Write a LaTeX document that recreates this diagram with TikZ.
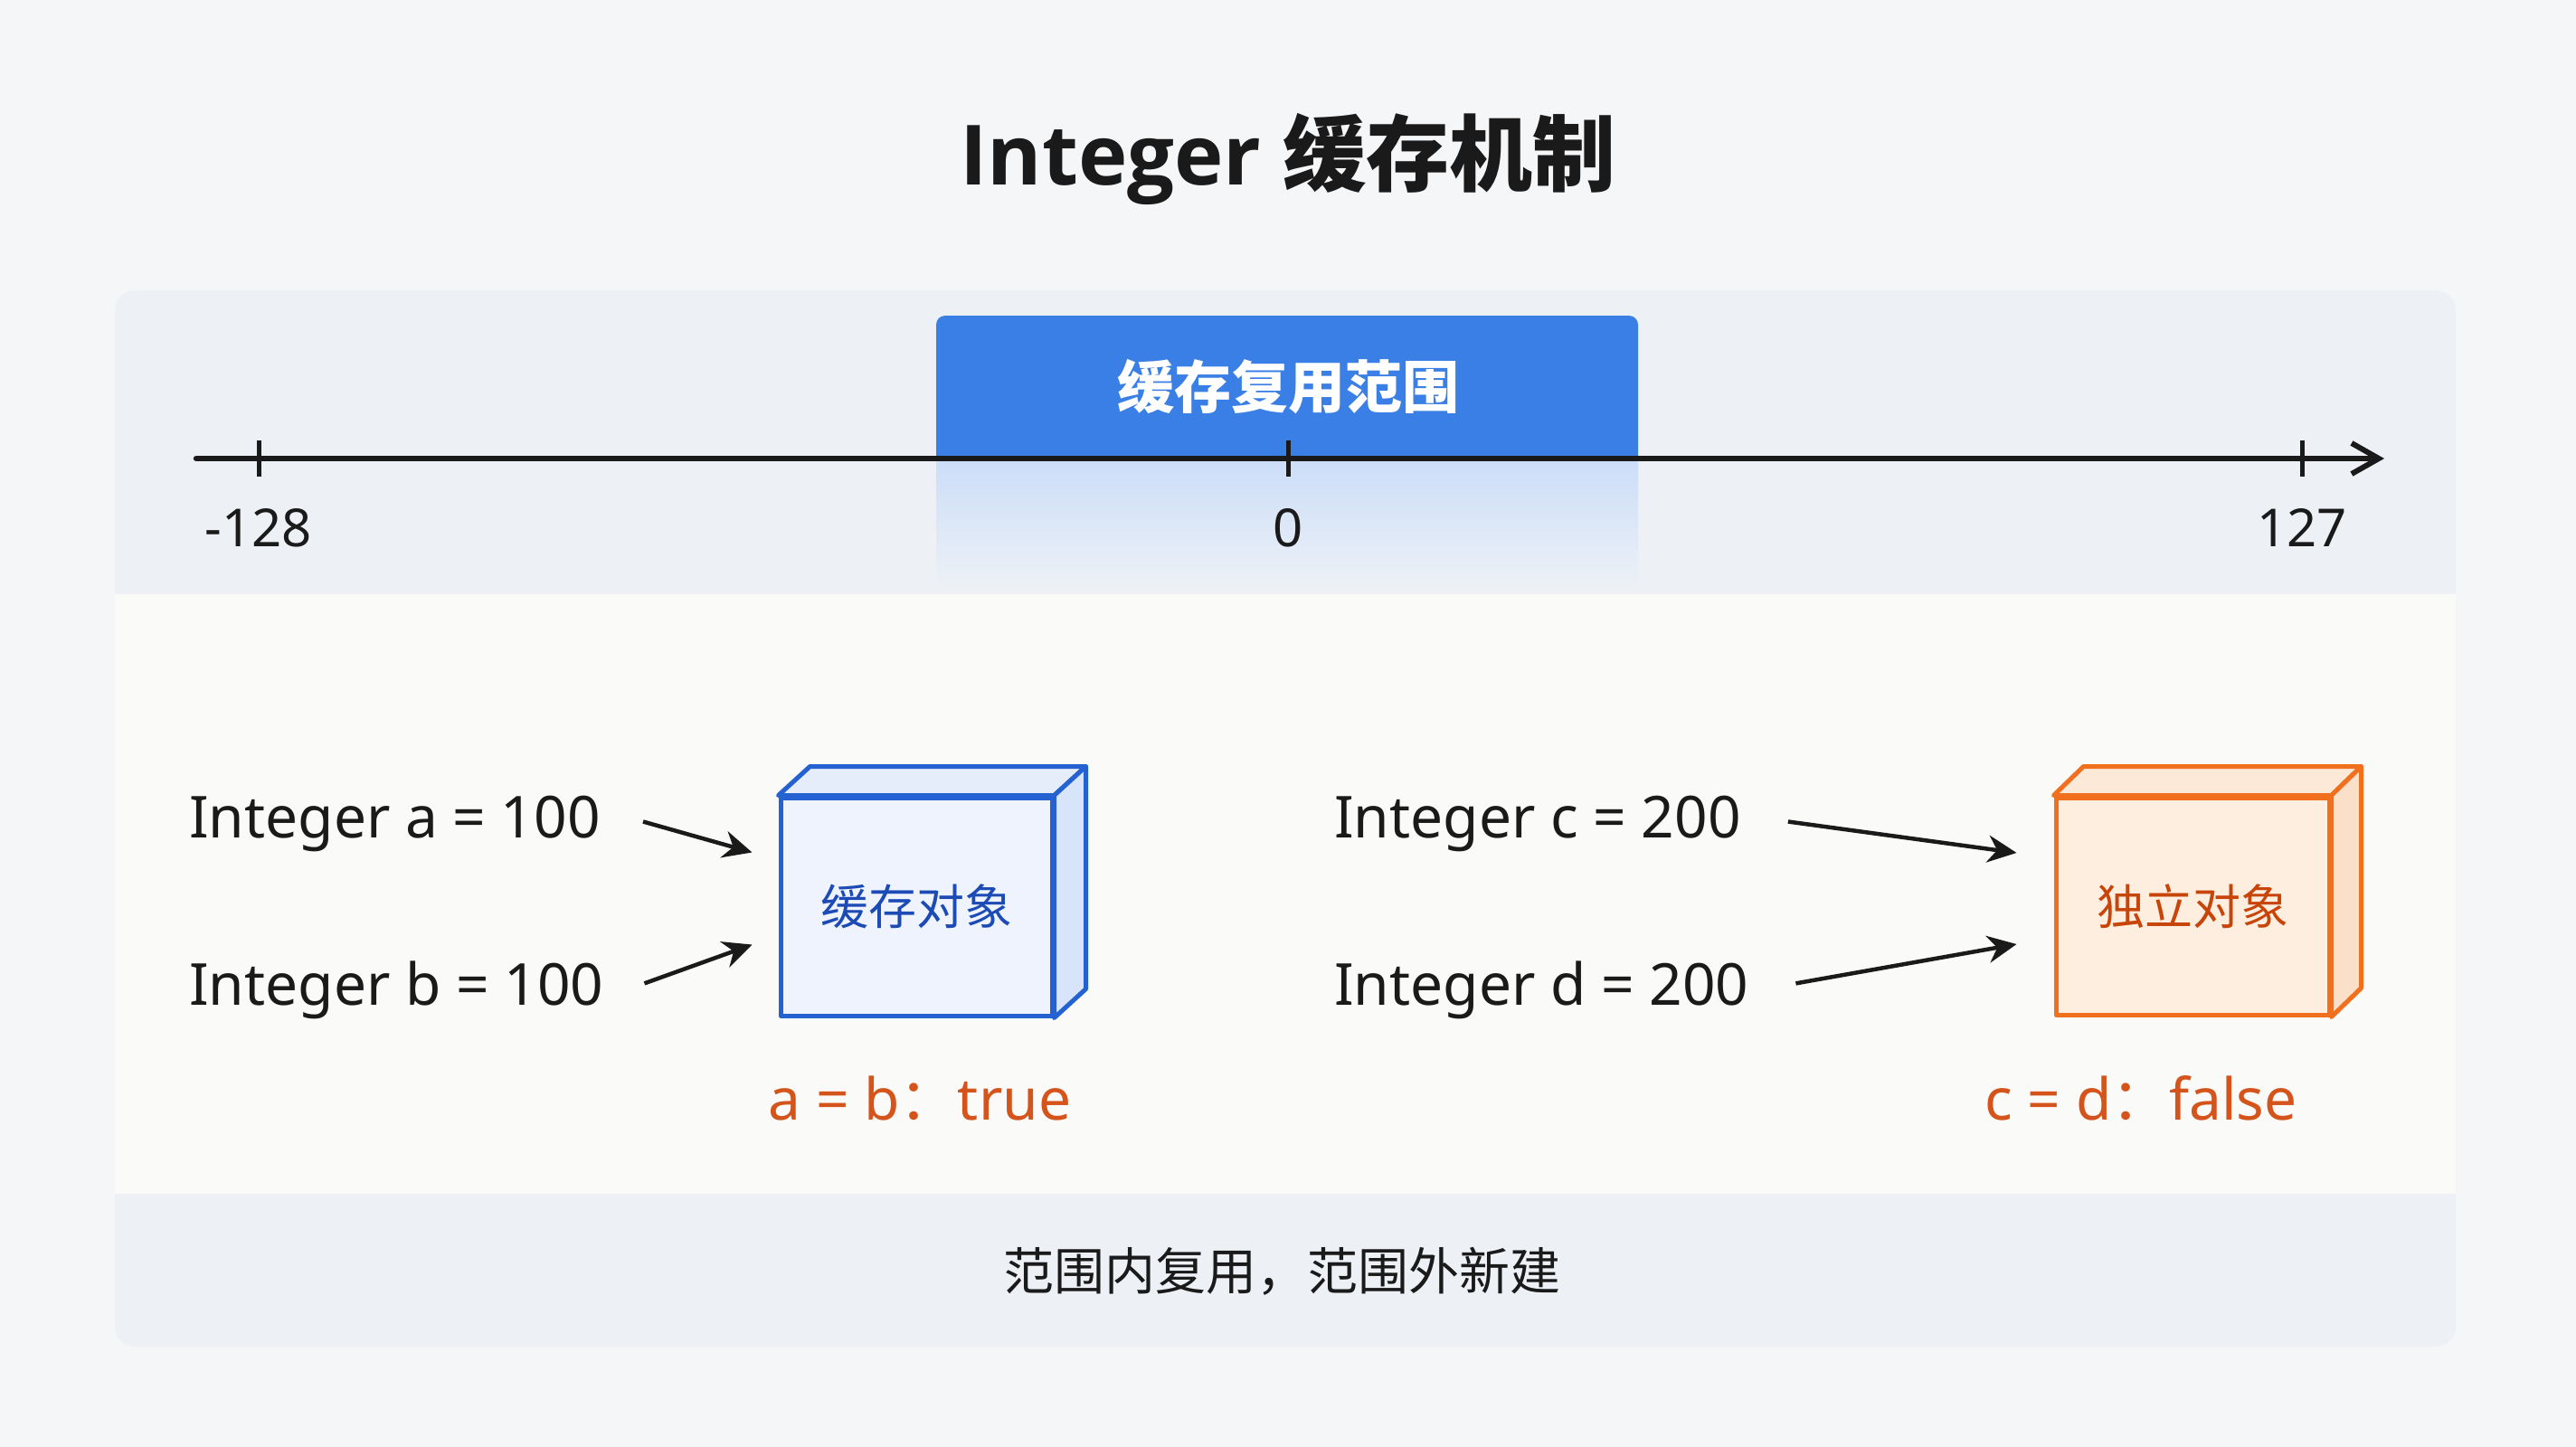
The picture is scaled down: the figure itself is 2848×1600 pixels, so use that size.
\documentclass[tikz,border=0pt]{standalone}
\usepackage{fontspec}
\setmainfont{Noto Sans}
\newfontfamily\cjk{Noto Sans CJK SC}
\newfontfamily\titlelatin{Open Sans}
\usetikzlibrary{arrows.meta}
\definecolor{pagebg}{HTML}{F5F6F8}
\definecolor{panelbg}{HTML}{EDF1F6}
\definecolor{midbg}{HTML}{FAFAF8}
\definecolor{rangeblue}{HTML}{3A7FE5}
\definecolor{rangelight}{HTML}{CBDDF8}
\definecolor{cblue}{HTML}{2462D2}
\definecolor{cbluefront}{HTML}{EEF3FD}
\definecolor{cbluetop}{HTML}{E5EDFB}
\definecolor{cblueside}{HTML}{D7E4FA}
\definecolor{cbluetext}{HTML}{1C4BB5}
\definecolor{corange}{HTML}{F0701E}
\definecolor{corangefront}{HTML}{FDEEDF}
\definecolor{corangetop}{HTML}{FCE9D8}
\definecolor{corangeside}{HTML}{FADFC9}
\definecolor{corangetext}{HTML}{C8450A}
\definecolor{resulttext}{HTML}{D4541C}
\definecolor{ink}{HTML}{1A1A1A}
\tikzset{
  axisline/.style={line width=6.5pt, draw=ink, line cap=round},
  tickline/.style={line width=5pt, draw=ink},
  axislbl/.style={font=\fontsize{58}{64}\selectfont, text=ink, inner sep=0pt, anchor=base},
  codelbl/.style={font=\fontsize{64}{70}\selectfont, text=ink, inner sep=0pt, anchor=base west},
  reslbl/.style={font=\fontsize{64}{70}\selectfont, text=resulttext, inner sep=0pt, anchor=base},
  ptr/.style={line width=4.5pt, draw=ink, -{Stealth[length=32pt,width=30pt]}},
  bluebox/.style={draw=cblue, fill=cbluefront, line width=5pt, minimum width=300pt, minimum height=241pt, inner sep=0pt, font=\cjk\fontsize{53}{60}\selectfont, text=cbluetext},
  orangebox/.style={draw=corange, fill=corangefront, line width=5pt, minimum width=302pt, minimum height=240pt, inner sep=0pt, font=\cjk\fontsize{53}{60}\selectfont, text=corangetext},
}
\begin{document}
\begin{tikzpicture}[x=1pt,y=-1pt, line join=round]
\useasboundingbox (0,0) rectangle (2848,1600);
\fill[pagebg] (0,0) rectangle (2848,1600);
% panels
\fill[panelbg, rounded corners=22pt] (127,321) rectangle (2715,1489);
\fill[midbg] (127,657) rectangle (2715,1320);
% title
\node[font=\fontsize{92}{100}\selectfont, text=ink, inner sep=0pt] (title) at (1424,176) {{\titlelatin\bfseries Integer} {\cjk\bfseries 缓存机制}};
% range band
\shade[top color=rangelight, bottom color=panelbg] (1035,507) rectangle (1811,650);
\fill[rangeblue] (1035,507) [rounded corners=10pt]-- (1035,349) -- (1811,349) [sharp corners]-- (1811,507) -- cycle;
\node[font=\cjk\bfseries\fontsize{63}{70}\selectfont, text=white, inner sep=0pt] (range) at (1424,428) {缓存复用范围};
% axis
\coordinate (axstart) at (217,507);
\coordinate (axend) at (2636,507);
\draw[axisline, -{Straight Barb[length=30pt,width=34pt,line width=6pt]}] (axstart) -- (axend);
\draw[tickline] (286,487) -- (286,527);
\draw[tickline] (1424,487) -- (1424,527);
\draw[tickline] (2545,487) -- (2545,527);
\node[axislbl] (lmin) at (286,604) {-128};
\node[axislbl] (lzero) at (1424,604) {0};
\node[axislbl] (lmax) at (2545,604) {127};
% left group
\node[codelbl] (ta) at (209,926) {Integer a = 100};
\node[codelbl] (tb) at (209,1111) {Integer b = 100};
\node[bluebox] (box1) at (1013,1002.5) {缓存对象};
\fill[cbluetop, draw=cblue, line width=5pt] (box1.north west) -- ++(35,-32) -- ([shift={(35,-32)}]box1.north east) -- (box1.north east) -- cycle;
\fill[cblueside, draw=cblue, line width=5pt] (box1.north east) -- ++(35,-32) -- ([shift={(35,-32)}]box1.south east) -- (box1.south east) -- cycle;
\draw[ptr] ([shift={(47,-2)}]ta.east) -- ([shift={(-29,-60)}]box1.west);
\draw[ptr] ([shift={(45,-7)}]tb.east) -- ([shift={(-29,42)}]box1.west);
\node[reslbl] (rab) at (1017,1238) {a = b{\cjk ：}true};
% right group
\node[codelbl] (tc) at (1475,926) {Integer c = 200};
\node[codelbl] (td) at (1475,1111) {Integer d = 200};
\node[orangebox] (box2) at (2424,1002) {独立对象};
\fill[corangetop, draw=corange, line width=5pt] (box2.north west) -- ++(33,-32) -- ([shift={(33,-32)}]box2.north east) -- (box2.north east) -- cycle;
\fill[corangeside, draw=corange, line width=5pt] (box2.north east) -- ++(33,-32) -- ([shift={(33,-32)}]box2.south east) -- (box2.south east) -- cycle;
\draw[ptr] ([shift={(52,-2)}]tc.east) -- ([shift={(-41,-59)}]box2.west);
\draw[ptr] ([shift={(52,-7)}]td.east) -- ([shift={(-41,42)}]box2.west);
\node[reslbl] (rcd) at (2367,1238) {c = d{\cjk ：}false};
% bottom note
\node[font=\cjk\fontsize{56}{62}\selectfont, text=ink, inner sep=0pt] (note) at (1417,1406) {范围内复用，范围外新建};
\end{tikzpicture}
\end{document}
